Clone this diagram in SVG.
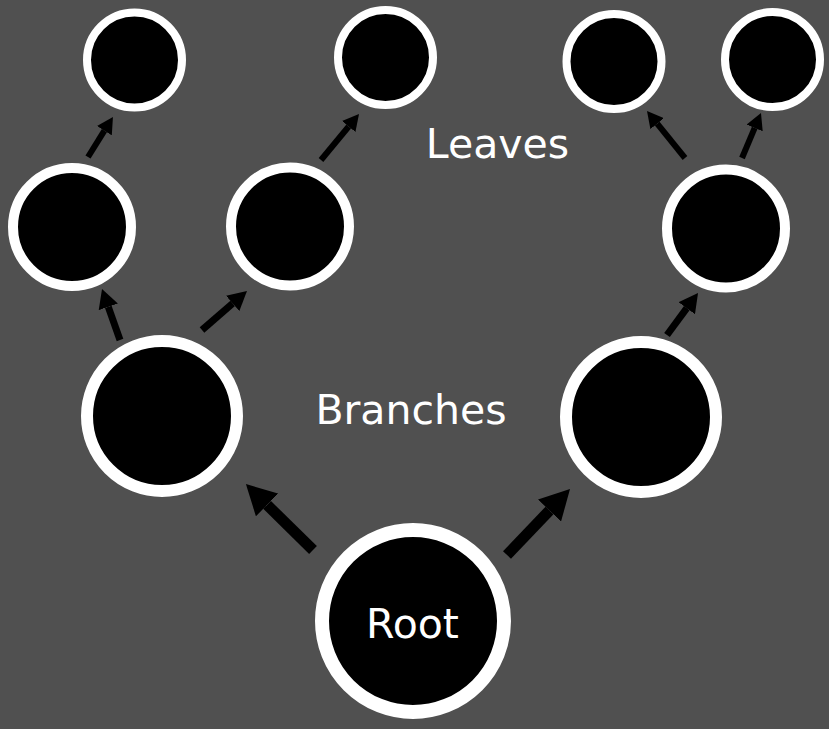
<svg xmlns="http://www.w3.org/2000/svg" width="829" height="729" viewBox="0 0 829 729">
  <style>
    .node { fill: #000000; stroke: #ffffff; }
    .lbl { font-family: "DejaVu Sans", Verdana, sans-serif; font-size: 41px; fill: #ffffff; text-anchor: middle; }
    .arr { stroke: #000000; stroke-linecap: butt; fill: none; marker-end: url(#head); }
  </style>
  <defs>
    <marker id="head" viewBox="0 0 2.7 2.9" refX="0" refY="1.45" markerWidth="2.7" markerHeight="2.9" markerUnits="strokeWidth" orient="auto">
      <path d="M0,0 L2.7,1.45 L0,2.9 Z" fill="#000000"/>
    </marker>
  </defs>
  <rect x="0" y="0" width="829" height="729" fill="#505050"/>

  <g id="connectors">
    <line class="arr" x1="313" y1="550" x2="267.1" y2="504.9" stroke-width="11"/>
    <line class="arr" x1="507" y1="555" x2="549.5" y2="510.5" stroke-width="11"/>
    <line class="arr" x1="120" y1="340" x2="108.3" y2="306.8" stroke-width="7"/>
    <line class="arr" x1="202" y1="330" x2="232.7" y2="303.4" stroke-width="7"/>
    <line class="arr" x1="667" y1="335" x2="686.8" y2="308.2" stroke-width="7"/>
    <line class="arr" x1="88" y1="157" x2="104.4" y2="130.7" stroke-width="6"/>
    <line class="arr" x1="321" y1="160" x2="348.7" y2="126.5" stroke-width="6"/>
    <line class="arr" x1="685" y1="158" x2="657.2" y2="123.6" stroke-width="6"/>
    <line class="arr" x1="742" y1="158" x2="754.7" y2="127.9" stroke-width="6"/>
  </g>

  <g id="root">
    <circle class="node" cx="413" cy="621" r="91" stroke-width="14"/>
    <text class="lbl" x="412.5" y="638">Root</text>
  </g>
  <g id="branch-left">
    <circle class="node" cx="162" cy="416" r="75" stroke-width="12"/>
  </g>
  <g id="branch-right">
    <circle class="node" cx="641" cy="417" r="75" stroke-width="12"/>
  </g>
  <g id="mid-left">
    <circle class="node" cx="72" cy="227" r="59" stroke-width="10"/>
  </g>
  <g id="mid-center">
    <circle class="node" cx="290" cy="226.5" r="59" stroke-width="10"/>
  </g>
  <g id="mid-right">
    <circle class="node" cx="726" cy="228.5" r="59" stroke-width="10"/>
  </g>
  <g id="leaf-1">
    <circle class="node" cx="134.5" cy="60" r="47.5" stroke-width="8"/>
  </g>
  <g id="leaf-2">
    <circle class="node" cx="385.5" cy="57.5" r="47.5" stroke-width="8"/>
  </g>
  <g id="leaf-3">
    <circle class="node" cx="614" cy="61.5" r="47.5" stroke-width="8"/>
  </g>
  <g id="leaf-4">
    <circle class="node" cx="772.5" cy="59.5" r="47.5" stroke-width="8"/>
  </g>

  <g id="label-leaves">
    <text class="lbl" x="497.5" y="158">Leaves</text>
  </g>
  <g id="label-branches">
    <text class="lbl" x="411" y="424">Branches</text>
  </g>
</svg>
